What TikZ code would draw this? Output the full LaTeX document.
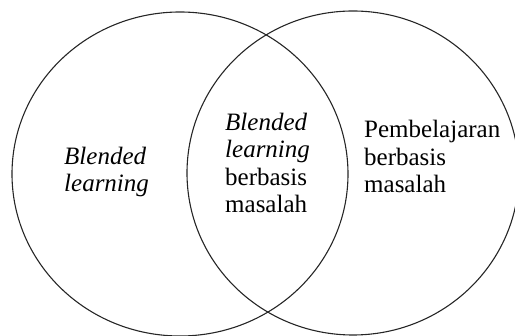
\documentclass[tikz,border=0pt]{standalone}
\usepackage{fontspec}
\setmainfont{Liberation Serif}
\begin{document}
\begin{tikzpicture}[x=1pt,y=-1pt,
  ring/.style={draw=black!85,line width=1.1pt},
  txt/.style={inner sep=0pt,align=left,anchor=base west,font=\fontsize{25}{27.5}\selectfont}]
\useasboundingbox (0,0) rectangle (515,336);
\draw[ring] (180,174) ellipse [x radius=168, y radius=162];
\draw[ring] (353,173) ellipse [x radius=166, y radius=162];
\node[txt] (left) at (64,192) {\textit{Blended}\\\textit{learning}};
\node[txt] (mid) at (225,213) {\textit{Blended}\\\textit{learning}\\berbasis\\masalah};
\node[txt] (right) at (364,193) {Pembelajaran\\berbasis\\masalah};
\end{tikzpicture}
\end{document}
